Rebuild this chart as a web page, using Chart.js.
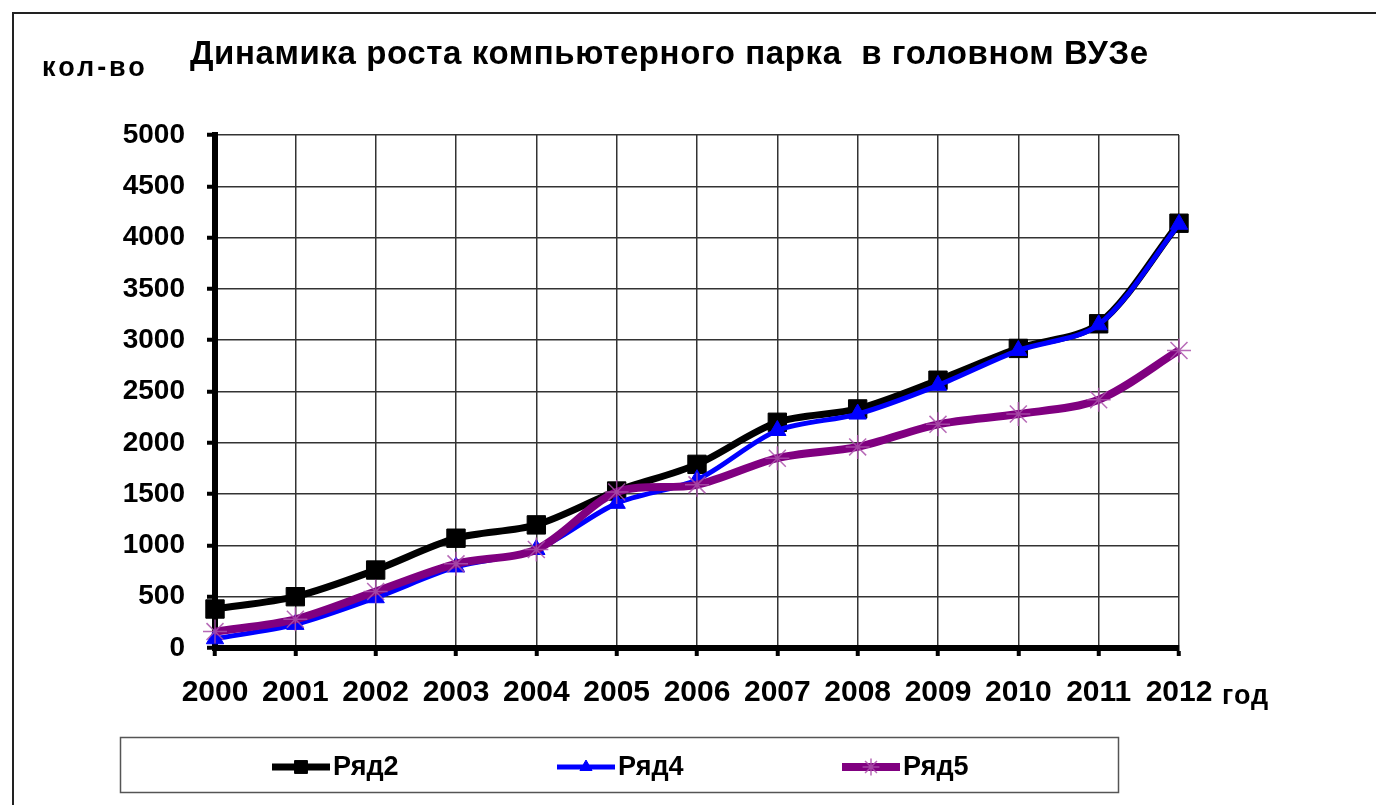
<!DOCTYPE html>
<html>
<head>
<meta charset="utf-8">
<script src="https://cdn.jsdelivr.net/npm/chart.js@4.4.1/dist/chart.umd.min.js"></script>
<style>
 html,body{margin:0;padding:0;background:#fff;}
 canvas{display:block;}
</style>
</head>
<body>
<canvas id="park" width="1376" height="805"></canvas>
<script>
const years=["2000","2001","2002","2003","2004","2005","2006","2007","2008","2009","2010","2011","2012"];
const row2=[380,500,760,1070,1200,1530,1790,2200,2330,2610,2920,3160,4140];
const row4=[90,230,490,790,960,1410,1640,2120,2280,2560,2900,3150,4130];
const row5=[160,280,550,820,960,1520,1590,1850,1960,2180,2280,2420,2900];

const FONT="'Liberation Sans', Arial, sans-serif";

// frame, captions and the boxed legend under the plot
const decor={
 id:"decor",
 beforeDraw(chart){
   const c=chart.ctx;
   c.save();
   c.fillStyle="#fff";
   c.fillRect(0,0,chart.width,chart.height);
   c.strokeStyle="#222";
   c.lineWidth=2;
   c.beginPath();
   c.moveTo(13,chart.height);
   c.lineTo(13,13);
   c.lineTo(chart.width,13);
   c.stroke();
   c.restore();
 },
 afterDraw(chart){
   const c=chart.ctx;
   c.save();
   c.fillStyle="#000";
   c.textBaseline="alphabetic";
   c.font="bold 33px "+FONT;
   c.letterSpacing="0.6px";
   c.fillText("Динамика роста компьютерного парка  в головном ВУЗе",190,64);
   c.font="bold 27px "+FONT;
   c.letterSpacing="3px";
   c.fillText("кол-во",42,76);
   c.letterSpacing="1px";
   c.fillText("год",1222,704);
   c.letterSpacing="0px";

   c.strokeStyle="#555";
   c.lineWidth=1.5;
   c.strokeRect(120.5,737.5,998,55);

   const itemX=[272,557,842];
   chart.data.datasets.forEach((ds,i)=>{
     const x=itemX[i], y=767;
     c.strokeStyle=ds.borderColor;
     c.lineWidth=ds.borderWidth;
     c.beginPath();
     c.moveTo(x,y);
     c.lineTo(x+58,y);
     c.stroke();
     c.fillStyle=ds.pointBackgroundColor;
     c.strokeStyle=ds.pointBorderColor;
     c.lineWidth=ds.pointBorderWidth;
     Chart.helpers.drawPoint(c,{pointStyle:ds.pointStyle,radius:ds.pointRadius*0.7,rotation:0,borderWidth:ds.pointBorderWidth},x+29,y);
     c.fillStyle="#000";
     c.font="bold 27px "+FONT;
     c.textBaseline="middle";
     c.fillText(ds.label,x+61,y+1);
   });
   c.restore();
 }
};

new Chart(document.getElementById("park"),{
 type:"line",
 data:{
   labels:years,
   datasets:[
     {label:"Ряд2",data:row2,borderColor:"#000",borderWidth:7,
      pointStyle:"rect",pointRadius:13,pointBackgroundColor:"#000",pointBorderColor:"#000",pointBorderWidth:1,
      order:2},
     {label:"Ряд4",data:row4,borderColor:"#0000ff",borderWidth:5,
      pointStyle:"triangle",pointRadius:10,pointBackgroundColor:"#0000ff",pointBorderColor:"#0000ff",pointBorderWidth:1,
      order:1},
     {label:"Ряд5",data:row5,borderColor:"#800080",borderWidth:8,
      pointStyle:"star",pointRadius:12,pointBackgroundColor:"rgba(0,0,0,0)",pointBorderColor:"rgba(170,80,170,0.85)",pointBorderWidth:1.5,
      order:0}
   ].map(d=>Object.assign({tension:0.3,clip:false,fill:false,pointHoverRadius:d.pointRadius},d))
 },
 options:{
   responsive:false,
   animation:false,
   events:[],
   layout:{padding:{left:0,top:135,right:197,bottom:97}},
   plugins:{legend:{display:false},tooltip:{enabled:false},title:{display:false}},
   scales:{
     x:{
       afterFit:s=>{s.height=60;},
       grid:{color:"#333",lineWidth:1.5,tickLength:8,tickColor:"#000",tickWidth:4},
       border:{color:"#000",width:6},
       ticks:{color:"#000",font:{family:FONT,size:30,weight:"bold"},padding:19,maxRotation:0,autoSkip:false}
     },
     y:{
       min:0,max:5000,
       afterFit:s=>{s.width=215;},
       grid:{color:"#333",lineWidth:1.5,tickLength:8,tickColor:"#000",tickWidth:4},
       border:{color:"#000",width:6},
       ticks:{stepSize:500,color:"#000",font:{family:FONT,size:28,weight:"bold"},padding:22,callback:v=>String(v)}
     }
   }
 },
 plugins:[decor]
});
</script>
</body>
</html>
